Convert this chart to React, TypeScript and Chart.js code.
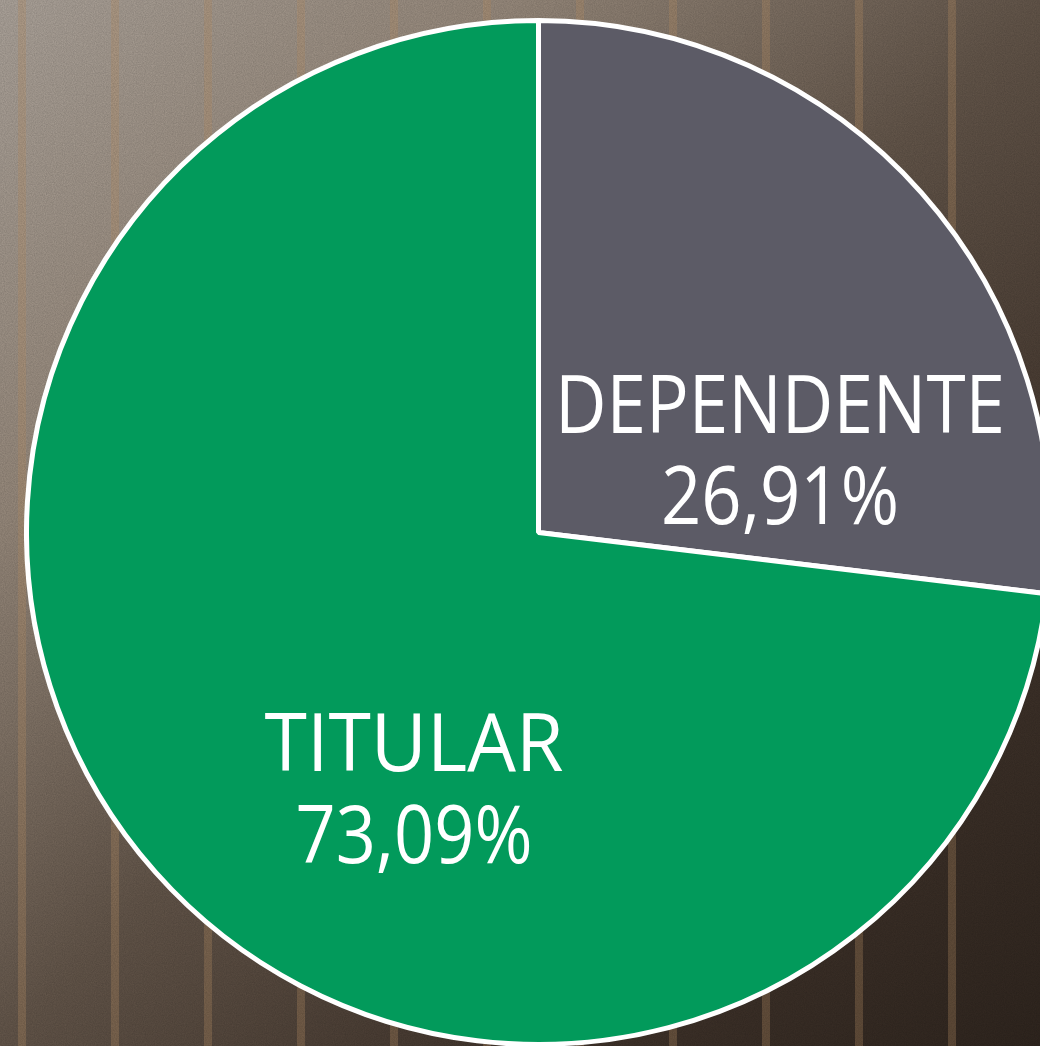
import React, { useEffect, useRef } from "react";
import { Chart, registerables } from "chart.js";

Chart.register(...registerables);

const categories: string[] = ["DEPENDENTE", "TITULAR"];
const values: number[] = [26.91, 73.09];
const sliceColors: string[] = ["#5c5b66", "#029a5b"];

// label placement relative to pie centre, as fractions of radius (style, not data)
const labelOffsets = [
  { dx: 0.4717, dy1: -0.1943, dy2: -0.0166, w1: 450, w2: 238 },
  { dx: -0.2432, dy1: 0.4658, dy2: 0.6455, w1: 299, w2: 237 },
];

const fmt = (v: number) => v.toFixed(2).replace(".", ",") + "%";

const labelPlugin = {
  id: "sliceLabels",
  afterDatasetsDraw(chart: any) {
    const meta = chart.getDatasetMeta(0);
    const arc = meta.data[0];
    if (!arc) return;
    const { x, y, outerRadius } = arc.getProps(["x", "y", "outerRadius"], true);
    const R = outerRadius;
    const ctx = chart.ctx;
    ctx.save();
    ctx.fillStyle = "#ffffff";
    ctx.textAlign = "center";
    ctx.textBaseline = "alphabetic";
    ctx.font = '80px "Open Sans", "DejaVu Sans", sans-serif';
    categories.forEach((cat, i) => {
      const o = labelOffsets[i];
      const cx = x + o.dx * R;
      ctx.fillText(cat, cx, y + o.dy1 * R, o.w1);
      ctx.fillText(fmt(values[i]), cx, y + o.dy2 * R, o.w2);
    });
    ctx.restore();
  },
};

const noise =
  "url(\"data:image/svg+xml;utf8,<svg xmlns='http://www.w3.org/2000/svg' width='200' height='200'><filter id='n'><feTurbulence type='fractalNoise' baseFrequency='0.9' numOctaves='2' stitchTiles='stitch'/><feColorMatrix type='matrix' values='0 0 0 0 0  0 0 0 0 0  0 0 0 0 0  0 0 0 0.2 0'/></filter><rect width='200' height='200' filter='url(%23n)'/></svg>\")";

export default function App() {
  const ref = useRef<HTMLCanvasElement | null>(null);
  useEffect(() => {
    if (!ref.current) return;
    const chart = new Chart(ref.current, {
      type: "pie",
      data: {
        labels: categories,
        datasets: [
          {
            data: values,
            backgroundColor: sliceColors,
            borderColor: "#ffffff",
            borderWidth: 5,
            hoverOffset: 0,
          },
        ],
      },
      options: {
        responsive: false,
        animation: false,
        layout: { padding: 0 },
        plugins: {
          legend: { display: false },
          tooltip: { enabled: false },
        },
      },
      plugins: [labelPlugin],
    });
    return () => chart.destroy();
  }, []);

  return (
    <div
      style={{
        position: "fixed",
        left: 0,
        top: 0,
        width: 1040,
        height: 1046,
        overflow: "hidden",
        background:
          noise +
          ", repeating-linear-gradient(90deg, rgba(0,0,0,0) 0px, rgba(0,0,0,0) 18px, rgba(190,148,104,0.32) 18px, rgba(190,148,104,0.32) 26px, rgba(0,0,0,0) 26px, rgba(0,0,0,0) 93px), linear-gradient(135deg, #b0a79e 0%, #9a8c7e 25%, #65574b 50%, #43362d 75%, #30261f 100%)",
      }}
    >
      <canvas
        ref={ref}
        width={1029}
        height={1029}
        style={{ position: "absolute", left: 24, top: 18, width: 1029, height: 1029 }}
      />
    </div>
  );
}
